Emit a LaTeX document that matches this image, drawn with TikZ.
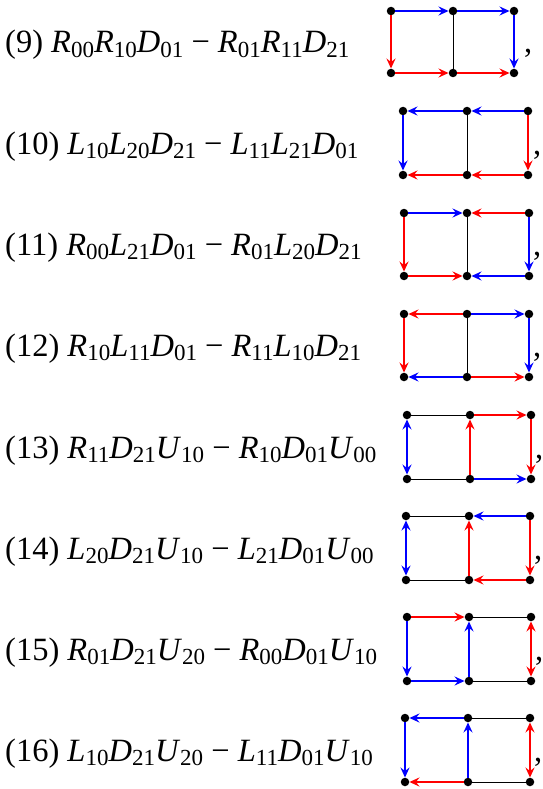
\documentclass[tikz,border=0pt]{standalone}
\usepackage{fontspec}
\setmainfont{Liberation Serif}
\usepackage{xcolor}
\usepackage{tikz}
\usetikzlibrary{arrows.meta}

% variable with a subscript
\newcommand{\V}[2]{\textit{#1}\raisebox{-0.13em}{\fontsize{23}{23}\selectfont #2}}

\begin{document}
\begin{tikzpicture}[x=1pt, y=-1pt,
  dot/.style={circle, fill=black, inner sep=0pt, minimum size=8.5pt},
  lbl/.style={anchor=base west, inner sep=0pt, font=\fontsize{32.5}{36}\selectfont},
  bl/.style={blue, line width=2.1pt, -{Stealth[length=10pt, width=9pt, inset=3.5pt]}},
  rd/.style={red, line width=2.1pt, -{Stealth[length=10pt, width=9pt, inset=3.5pt]}},
  blboth/.style={blue, line width=2.1pt, {Stealth[length=10pt, width=9pt, inset=3.5pt]}-{Stealth[length=10pt, width=9pt, inset=3.5pt]}},
  rdboth/.style={red, line width=2.1pt, {Stealth[length=10pt, width=9pt, inset=3.5pt]}-{Stealth[length=10pt, width=9pt, inset=3.5pt]}},
  rung/.style={black, line width=1pt}]
  \useasboundingbox (0,0) rectangle (542,789);

  % (9)
  \node[lbl] (t9) at (5,53) {(9) \V{R}{00}\V{R}{10}\V{D}{01} − \V{R}{01}\V{R}{11}\V{D}{21}};
  \node[dot] (a9) at (391,11) {}; \node[dot] (b9) at (453,11) {}; \node[dot] (c9) at (514,11) {};
  \node[dot] (d9) at (391,73) {}; \node[dot] (e9) at (453,73) {}; \node[dot] (f9) at (514,73) {};
  \node[lbl] (k9) at (524,53) {,};
  \draw[rung] (b9) -- (e9);
  \draw[bl] (a9) -- (b9);
  \draw[bl] (b9) -- (c9);
  \draw[bl] (c9) -- (f9);
  \draw[rd] (a9) -- (d9);
  \draw[rd] (d9) -- (e9);
  \draw[rd] (e9) -- (f9);

  % (10)
  \node[lbl] (t10) at (5,154) {(10) \V{L}{10}\V{L}{20}\V{D}{21} − \V{L}{11}\V{L}{21}\V{D}{01}};
  \node[dot] (a10) at (403,111) {}; \node[dot] (b10) at (467,111) {}; \node[dot] (c10) at (528,111) {};
  \node[dot] (d10) at (403,175) {}; \node[dot] (e10) at (467,175) {}; \node[dot] (f10) at (528,175) {};
  \node[lbl] (k10) at (533,154) {,};
  \draw[rung] (b10) -- (e10);
  \draw[bl] (c10) -- (b10);
  \draw[bl] (b10) -- (a10);
  \draw[bl] (a10) -- (d10);
  \draw[rd] (c10) -- (f10);
  \draw[rd] (f10) -- (e10);
  \draw[rd] (e10) -- (d10);

  % (11)
  \node[lbl] (t11) at (5,255) {(11) \V{R}{00}\V{L}{21}\V{D}{01} − \V{R}{01}\V{L}{20}\V{D}{21}};
  \node[dot] (a11) at (404,213) {}; \node[dot] (b11) at (467,213) {}; \node[dot] (c11) at (529,213) {};
  \node[dot] (d11) at (404,276) {}; \node[dot] (e11) at (467,276) {}; \node[dot] (f11) at (529,276) {};
  \node[lbl] (k11) at (533,255) {,};
  \draw[rung] (b11) -- (e11);
  \draw[bl] (a11) -- (b11);
  \draw[rd] (c11) -- (b11);
  \draw[rd] (a11) -- (d11);
  \draw[rd] (d11) -- (e11);
  \draw[bl] (c11) -- (f11);
  \draw[bl] (f11) -- (e11);

  % (12)
  \node[lbl] (t12) at (5,356) {(12) \V{R}{10}\V{L}{11}\V{D}{01} − \V{R}{11}\V{L}{10}\V{D}{21}};
  \node[dot] (a12) at (404,314) {}; \node[dot] (b12) at (467,314) {}; \node[dot] (c12) at (529,314) {};
  \node[dot] (d12) at (404,377) {}; \node[dot] (e12) at (467,377) {}; \node[dot] (f12) at (529,377) {};
  \node[lbl] (k12) at (533,356) {,};
  \draw[rung] (b12) -- (e12);
  \draw[rd] (b12) -- (a12);
  \draw[bl] (b12) -- (c12);
  \draw[rd] (a12) -- (d12);
  \draw[bl] (e12) -- (d12);
  \draw[rd] (e12) -- (f12);
  \draw[bl] (c12) -- (f12);

  % (13)
  \node[lbl] (t13) at (5,458) {(13) \V{R}{11}\V{D}{21}\V{U}{10} − \V{R}{10}\V{D}{01}\V{U}{00}};
  \node[dot] (a13) at (407,415) {}; \node[dot] (b13) at (470,415) {}; \node[dot] (c13) at (531,415) {};
  \node[dot] (d13) at (407,479) {}; \node[dot] (e13) at (470,479) {}; \node[dot] (f13) at (531,479) {};
  \node[lbl] (k13) at (535,458) {,};
  \draw[rung] (a13) -- (b13);
  \draw[rung] (d13) -- (e13);
  \draw[blboth] (a13) -- (d13);
  \draw[rd] (e13) -- (b13);
  \draw[rd] (b13) -- (c13);
  \draw[rd] (c13) -- (f13);
  \draw[bl] (e13) -- (f13);

  % (14)
  \node[lbl] (t14) at (5,559) {(14) \V{L}{20}\V{D}{21}\V{U}{10} − \V{L}{21}\V{D}{01}\V{U}{00}};
  \node[dot] (a14) at (406,516) {}; \node[dot] (b14) at (469,516) {}; \node[dot] (c14) at (530,516) {};
  \node[dot] (d14) at (406,580) {}; \node[dot] (e14) at (469,580) {}; \node[dot] (f14) at (530,580) {};
  \node[lbl] (k14) at (534,559) {,};
  \draw[rung] (a14) -- (b14);
  \draw[rung] (d14) -- (e14);
  \draw[blboth] (a14) -- (d14);
  \draw[bl] (c14) -- (b14);
  \draw[rd] (e14) -- (b14);
  \draw[rd] (c14) -- (f14);
  \draw[rd] (f14) -- (e14);

  % (15)
  \node[lbl] (t15) at (5,660) {(15) \V{R}{01}\V{D}{21}\V{U}{20} − \V{R}{00}\V{D}{01}\V{U}{10}};
  \node[dot] (a15) at (407,617) {}; \node[dot] (b15) at (469,617) {}; \node[dot] (c15) at (531,617) {};
  \node[dot] (d15) at (407,681) {}; \node[dot] (e15) at (469,681) {}; \node[dot] (f15) at (531,681) {};
  \node[lbl] (k15) at (535,660) {,};
  \draw[rung] (b15) -- (c15);
  \draw[rung] (e15) -- (f15);
  \draw[rd] (a15) -- (b15);
  \draw[bl] (a15) -- (d15);
  \draw[bl] (d15) -- (e15);
  \draw[bl] (e15) -- (b15);
  \draw[rdboth] (c15) -- (f15);

  % (16)
  \node[lbl] (t16) at (5,761) {(16) \V{L}{10}\V{D}{21}\V{U}{20} − \V{L}{11}\V{D}{01}\V{U}{10}};
  \node[dot] (a16) at (405,718) {}; \node[dot] (b16) at (468,718) {}; \node[dot] (c16) at (530,718) {};
  \node[dot] (d16) at (405,782) {}; \node[dot] (e16) at (468,782) {}; \node[dot] (f16) at (530,782) {};
  \node[lbl] (k16) at (534,761) {,};
  \draw[rung] (b16) -- (c16);
  \draw[rung] (e16) -- (f16);
  \draw[bl] (b16) -- (a16);
  \draw[bl] (a16) -- (d16);
  \draw[bl] (e16) -- (b16);
  \draw[rd] (e16) -- (d16);
  \draw[rdboth] (c16) -- (f16);
\end{tikzpicture}
\end{document}
